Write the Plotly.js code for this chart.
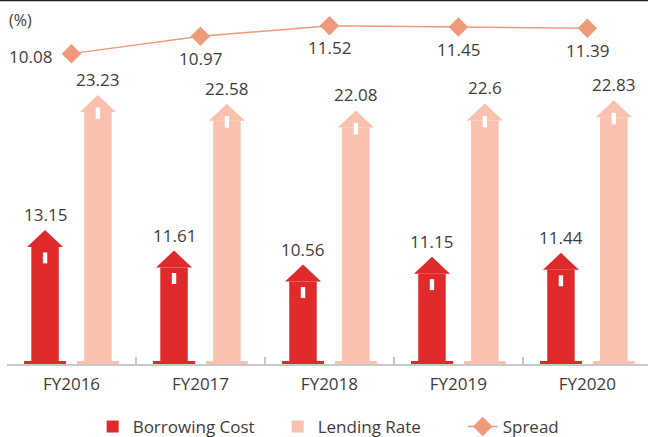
<!DOCTYPE html>
<html>
<head>
<meta charset="utf-8">
<script src="https://cdn.plot.ly/plotly-3.0.1.min.js"></script>
<style>html,body{margin:0;padding:0;background:#fff;}#chart{width:648px;height:437px;}</style>
</head>
<body>
<div id="chart"></div>
<script>
// ---- data ----
const categories = ['FY2016', 'FY2017', 'FY2018', 'FY2019', 'FY2020'];
const borrowingCost = [13.15, 11.61, 10.56, 11.15, 11.44];
const lendingRate = [23.23, 22.58, 22.08, 22.6, 22.83];
const spread = [10.08, 10.97, 11.52, 11.45, 11.39];
const seriesNames = ['Borrowing Cost', 'Lending Rate', 'Spread'];

// ---- style ----
const RED = '#e0292a', PINK = '#f9c1ae', SALMON = '#ef9a7b', TEXT = '#3d3d3d';
const FONT = 'Open Sans, sans-serif';
const barW = 0.213, shiftRed = -0.205, shiftPink = 0.205;
const yRange = [4.4, 31.6];
const y2Range = [-5.92, 12.845];

const traces = [
  { type: 'bar', name: seriesNames[0], x: categories, y: borrowingCost,
    width: barW, offset: shiftRed - barW / 2, marker: { color: RED }, cliponaxis: true },
  { type: 'bar', name: seriesNames[1], x: categories, y: lendingRate,
    width: barW, offset: shiftPink - barW / 2, marker: { color: PINK }, cliponaxis: true },
  { type: 'scatter', mode: 'lines+markers', name: seriesNames[2], x: categories, y: spread, yaxis: 'y2',
    line: { color: SALMON, width: 1.5 }, marker: { symbol: 'diamond', size: 15, color: SALMON } }
];

const shapes = [];
const annotations = [];
function house(i, v, shift, color, winTop, winBot) {
  const xc = i + shift;
  const base = { xref: 'x', yref: 'y', xsizemode: 'pixel', ysizemode: 'pixel', xanchor: xc, line: { width: 0 } };
  shapes.push(Object.assign({}, base, { type: 'path', yanchor: v, path: 'M-18,0 L18,0 L0,17 Z', fillcolor: color }));
  shapes.push(Object.assign({}, base, { type: 'path', yanchor: v,
    path: 'M-2.2,' + winTop + ' L2.2,' + winTop + ' L2.2,' + winBot + ' L-2.2,' + winBot + ' Z', fillcolor: '#ffffff' }));
  shapes.push(Object.assign({}, base, { type: 'path', yanchor: yRange[0], path: 'M-21,0 L21,0 L21,3 L-21,3 Z', fillcolor: color }));
  annotations.push({ x: xc, y: v, xref: 'x', yref: 'y', text: String(v), showarrow: false,
    yanchor: 'bottom', yshift: 19, font: { family: FONT, size: 17, color: TEXT } });
}
categories.forEach((c, i) => {
  house(i, borrowingCost[i], shiftRed, RED, -5.5, -16.5);
  house(i, lendingRate[i], shiftPink, PINK, 4.5, -7);
  annotations.push({ x: i, y: spread[i], xref: 'x', yref: 'y2', text: String(spread[i]), showarrow: false,
    xanchor: i === 0 ? 'right' : 'center', yanchor: 'middle',
    xshift: i === 0 ? -17 : 0, yshift: i === 0 ? -3 : -22,
    font: { family: FONT, size: 17, color: TEXT } });
});
annotations.push({ xref: 'paper', yref: 'paper', x: 0, y: 1, xanchor: 'left', yanchor: 'middle', yshift: -20,
  text: '(%)', showarrow: false, font: { family: FONT, size: 16, color: TEXT } });
shapes.push({ type: 'line', xref: 'paper', yref: 'paper', x0: -0.02, x1: 1.02, y0: 1, y1: 1,
  line: { color: '#231f20', width: 2.5 } });

const layout = {
  width: 648, height: 437,
  margin: { l: 7, r: 0, t: 0, b: 73, autoexpand: false },
  paper_bgcolor: '#ffffff', plot_bgcolor: '#ffffff',
  font: { family: FONT, size: 17, color: TEXT },
  showlegend: true,
  legend: { orientation: 'h', xref: 'container', x: 0.143, xanchor: 'left', y: -0.173, yanchor: 'middle',
    font: { family: FONT, size: 17, color: TEXT }, traceorder: 'normal', entrywidth: 140 },
  xaxis: { type: 'category', range: [-0.5, 4.47], showline: true, linecolor: '#c9c9c9', linewidth: 1.5,
    ticks: 'inside', ticklen: 7, tickcolor: '#c9c9c9', tickwidth: 1.5, tickson: 'boundaries',
    ticklabelstandoff: 4,
    showgrid: false, zeroline: false, tickfont: { family: FONT, size: 17, color: TEXT }, fixedrange: true },
  yaxis: { range: yRange, visible: false, showgrid: false, zeroline: false, fixedrange: true },
  yaxis2: { range: y2Range, overlaying: 'y', visible: false, showgrid: false, zeroline: false, fixedrange: true },
  shapes: shapes,
  annotations: annotations,
  barmode: 'group',
  hovermode: false
};

Plotly.newPlot('chart', traces, layout, { staticPlot: true, displayModeBar: false });
</script>
</body>
</html>
